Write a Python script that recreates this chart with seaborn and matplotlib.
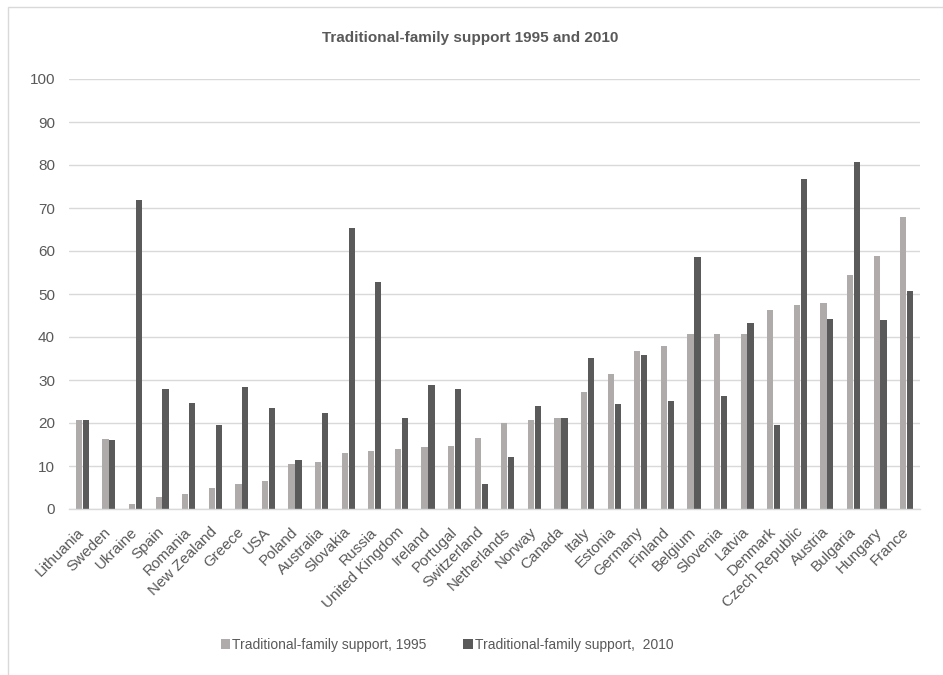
import matplotlib
matplotlib.use("Agg")
import matplotlib.pyplot as plt
import seaborn as sns
import pandas as pd
from matplotlib.patches import Rectangle

countries = ["Lithuania", "Sweden", "Ukraine", "Spain", "Romania", "New Zealand",
             "Greece", "USA", "Poland", "Australia", "Slovakia", "Russia",
             "United Kingdom", "Ireland", "Portugal", "Switzerland", "Netherlands",
             "Norway", "Canada", "Italy", "Estonia", "Germany", "Finland",
             "Belgium", "Slovenia", "Latvia", "Denmark", "Czech Republic",
             "Austria", "Bulgaria", "Hungary", "France"]
support_1995 = [20.8, 16.2, 1.1, 2.8, 3.6, 4.9, 5.7, 6.5, 10.4, 10.9, 13.1, 13.5,
                13.9, 14.5, 14.7, 16.6, 20.0, 20.8, 21.1, 27.3, 31.3, 36.7, 37.8,
                40.7, 40.7, 40.8, 46.3, 47.4, 48.0, 54.4, 58.8, 67.9]
support_2010 = [20.6, 16.0, 71.8, 27.8, 24.6, 19.6, 28.4, 23.5, 11.3, 22.4, 65.3, 52.7,
                21.1, 28.8, 27.8, 5.7, 12.0, 24.0, 21.1, 35.2, 24.5, 35.9, 25.2,
                58.5, 26.3, 43.2, 19.5, 76.8, 44.3, 80.6, 44.0, 50.8]
series_names = ["Traditional-family support, 1995", "Traditional-family support,  2010"]
y_ticks = list(range(0, 101, 10))

df = pd.DataFrame({
    "country": countries * 2,
    "value": support_1995 + support_2010,
    "series": [series_names[0]] * len(countries) + [series_names[1]] * len(countries),
})

sns.set_theme(style="white")
plt.rcParams["font.family"] = ["Liberation Sans", "DejaVu Sans"]
text_color = "#595959"

fig = plt.figure(figsize=(9.43, 6.75), dpi=100)
ax = fig.add_axes([69 / 943, 1 - 509 / 675, (920 - 69) / 943, (509 - 79) / 675])

palette = {series_names[0]: "#AEABAA", series_names[1]: "#5A5A5A"}
sns.barplot(data=df, x="country", y="value", hue="series", order=countries,
            hue_order=series_names, palette=palette, width=0.52, gap=0.1,
            saturation=1, ax=ax, legend=True, edgecolor="none")

ax.set_xlim(-0.5, len(countries) - 0.5)
ax.set_ylim(0, 100)
ax.set_yticks(y_ticks)
ax.yaxis.grid(True, color="#D9D9D9", linewidth=1)
ax.set_axisbelow(True)
for side in ["left", "right", "top"]:
    ax.spines[side].set_visible(False)
ax.spines["bottom"].set_color("#D9D9D9")
ax.spines["bottom"].set_linewidth(1)
ax.set_xlabel("")
ax.set_ylabel("")
ax.tick_params(axis="both", length=0, labelsize=11, colors=text_color)
ax.tick_params(axis="y", pad=10)
ax.tick_params(axis="x", pad=15)
plt.setp(ax.get_xticklabels(), rotation=45, ha="right", va="center",
         rotation_mode="anchor")

ax.legend_.remove()
handles, labels = ax.get_legend_handles_labels()
fig.legend(handles, labels, loc="center", bbox_to_anchor=(447 / 943, 1 - 645 / 675),
           ncol=2, frameon=False, fontsize=10, labelcolor=text_color,
           handlelength=0.7, handleheight=0.7, handletextpad=0.15, columnspacing=2.6)

fig.text(470 / 943, 1 - 38 / 675, "Traditional-family support 1995 and 2010",
         ha="center", va="center", fontsize=11, fontweight="bold", color=text_color)

fig.patches.append(Rectangle((8 / 943, -0.05), 1.2, 1 - 7 / 675 + 0.05,
                             transform=fig.transFigure, fill=False,
                             edgecolor="#D9D9D9", linewidth=1))

fig.savefig("out.png", dpi=100, facecolor="white")
